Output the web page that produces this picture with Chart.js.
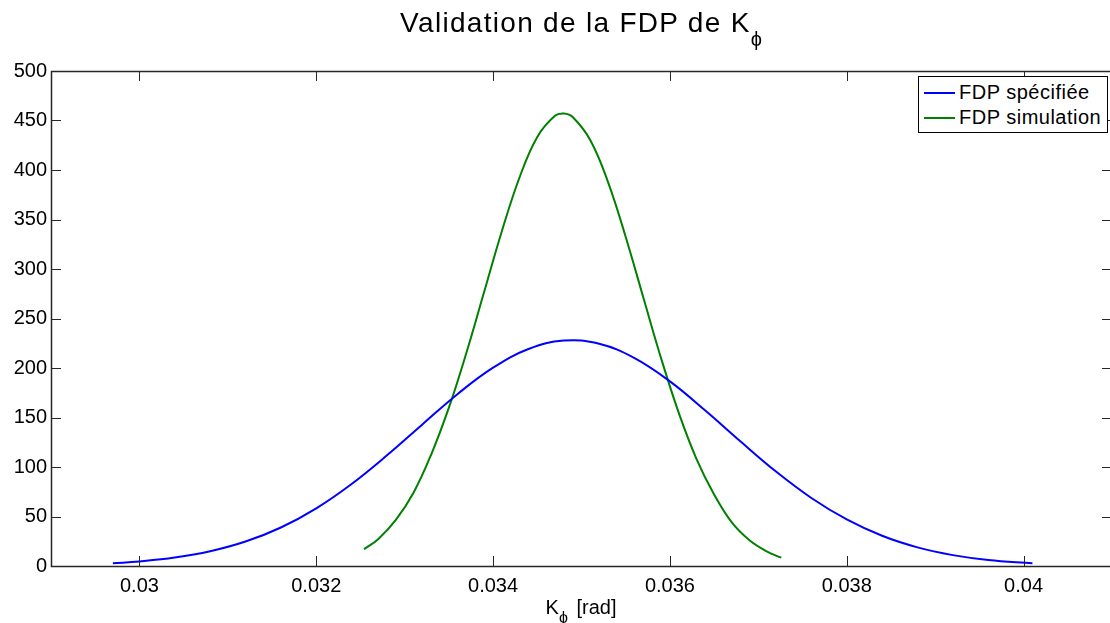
<!DOCTYPE html>
<html>
<head>
<meta charset="utf-8">
<script src="https://cdn.jsdelivr.net/npm/chart.js@4"></script>
<style>
  body { margin: 0; background: #fff; }
  #wrap { position: relative; width: 1110px; height: 623px; overflow: hidden;
          font-family: "Liberation Sans", Arial, sans-serif; color: #000; }
  #plot { position: absolute; left: 0; top: 0; }
  #title { position: absolute; left: 581px; top: 7px; transform: translateX(-50%);
           font-size: 28px; line-height: 32px; letter-spacing: 1.3px; white-space: nowrap; }
  #title .sub { position: relative; top: 14px; font-size: 20px; letter-spacing: 0; }
  #xlabel { position: absolute; left: 581px; top: 595px; transform: translateX(-50%);
            font-size: 20px; line-height: 24px; white-space: nowrap; }
  #xlabel .sub { position: relative; top: 9px; font-size: 16px; margin-right: 3px; }
  #legend { position: absolute; left: 918px; top: 76px; width: 188px; height: 52px;
            border: 1px solid #000; background: #fff; padding-top: 3px; box-sizing: content-box; }
  #legend .row { height: 25px; display: flex; align-items: center; font-size: 20px;
                 letter-spacing: 0.5px; white-space: nowrap; }
  #legend .swatch { width: 31px; height: 2px; margin: 0 4px 0 5px; }
</style>
</head>
<body>
<div id="wrap">
  <canvas id="plot" width="1120" height="623"></canvas>
  <div id="title">Validation de la FDP de K<span class="sub">ϕ</span></div>
  <div id="xlabel">K<span class="sub">ϕ</span> [rad]</div>
  <div id="legend"></div>
</div>
<script>
// tick labels
let xTicks = [0.03, 0.032, 0.034, 0.036, 0.038, 0.04];
let yTicks = [0, 50, 100, 150, 200, 250, 300, 350, 400, 450, 500];

// FDP spécifiée (blue)
let blueX = [0.0297, 0.0300, 0.0304, 0.0308, 0.0312, 0.0316, 0.0320, 0.0324, 0.0328,
             0.0332, 0.0336, 0.0340, 0.0344, 0.0348, 0.0352, 0.0356, 0.0360, 0.0364,
             0.0368, 0.0372, 0.0376, 0.0380, 0.0384, 0.0388, 0.0392, 0.0396, 0.0401];
let blueY = [2.8, 4.6, 8.5, 14.9, 24.7, 38.9, 58.3, 82.9, 111.8,
             143.0, 173.8, 200.3, 219.2, 227.7, 224.4, 210.0, 186.5, 157.1,
             125.7, 95.4, 68.7, 47.0, 30.5, 18.8, 11.0, 6.1, 2.7];

// FDP simulation (green)
let greenX = [0.03254, 0.0327, 0.0329, 0.0331, 0.0333, 0.0335, 0.0337, 0.0339, 0.0341,
              0.0343, 0.0345, 0.0347, 0.0348, 0.0349, 0.0351, 0.0353, 0.0355, 0.0357,
              0.0359, 0.0361, 0.0363, 0.0365, 0.0367, 0.0369, 0.0371, 0.03726];
let greenY = [17.0, 27.0, 46.5, 74.0, 112.6, 159.9, 215.9, 277.2, 338.4,
              392.7, 433.4, 454.7, 457.0, 453.5, 430.1, 387.8, 332.4, 271.0,
              209.9, 154.7, 108.3, 72.2, 44.0, 26.0, 14.5, 8.4];

let font = { family: "'Liberation Sans', Arial, sans-serif", size: 20 };

// box + inward ticks, matlab style
let frame = {
  id: 'frame',
  afterDraw(chart) {
    let ctx = chart.ctx;
    let a = chart.chartArea;
    let x = chart.scales.x;
    let y = chart.scales.y;
    ctx.save();
    ctx.strokeStyle = '#262626';
    ctx.lineWidth = 1;
    ctx.beginPath();
    x.ticks.forEach(t => {
      let px = Math.round(x.getPixelForValue(t.value)) + 0.5;
      ctx.moveTo(px, a.bottom); ctx.lineTo(px, a.bottom - 10);
      ctx.moveTo(px, a.top); ctx.lineTo(px, a.top + 10);
    });
    y.ticks.forEach(t => {
      let py = Math.round(y.getPixelForValue(t.value)) + 0.5;
      ctx.moveTo(a.left, py); ctx.lineTo(a.left + 10, py);
      ctx.moveTo(a.right, py); ctx.lineTo(a.right - 10, py);
    });
    ctx.stroke();
    ctx.lineWidth = 1.5;
    ctx.strokeRect(Math.round(a.left) + 0.5, Math.round(a.top) + 0.5,
                   Math.round(a.right - a.left), Math.round(a.bottom - a.top));
    ctx.restore();
  }
};

let chart = new Chart(document.getElementById('plot'), {
  type: 'line',
  data: {
    datasets: [{
      label: 'FDP spécifiée',
      data: blueX.map((v, i) => ({ x: v, y: blueY[i] })),
      borderColor: '#0000ff',
      borderWidth: 2,
      pointRadius: 0,
      tension: 0.4
    }, {
      label: 'FDP simulation',
      data: greenX.map((v, i) => ({ x: v, y: greenY[i] })),
      borderColor: '#008000',
      borderWidth: 2,
      pointRadius: 0,
      tension: 0.4
    }]
  },
  options: {
    responsive: false,
    animation: false,
    layout: { padding: { top: 71, right: 8, left: 0, bottom: 0 } },
    plugins: { legend: { display: false }, tooltip: { enabled: false } },
    scales: {
      x: {
        type: 'linear',
        min: 0.029,
        max: 0.041,
        afterBuildTicks: s => { s.ticks = xTicks.map(v => ({ value: v })); },
        afterFit: s => { s.height = 57; },
        grid: { drawOnChartArea: false, drawTicks: false },
        border: { display: false },
        ticks: { font: font, color: '#000', padding: 8, maxRotation: 0,
                  callback: v => String(v) }
      },
      y: {
        min: 0,
        max: 500,
        afterBuildTicks: s => { s.ticks = yTicks.map(v => ({ value: v })); },
        afterFit: s => { s.width = 51; },
        grid: { drawOnChartArea: false, drawTicks: false },
        border: { display: false },
        ticks: { font: font, color: '#000', padding: 4 }
      }
    }
  },
  plugins: [frame]
});

// legend built from the datasets
let legend = document.getElementById('legend');
chart.data.datasets.forEach(ds => {
  let row = document.createElement('div');
  row.className = 'row';
  let sw = document.createElement('span');
  sw.className = 'swatch';
  sw.style.background = ds.borderColor;
  let txt = document.createElement('span');
  txt.textContent = ds.label;
  row.appendChild(sw);
  row.appendChild(txt);
  legend.appendChild(row);
});
</script>
</body>
</html>
